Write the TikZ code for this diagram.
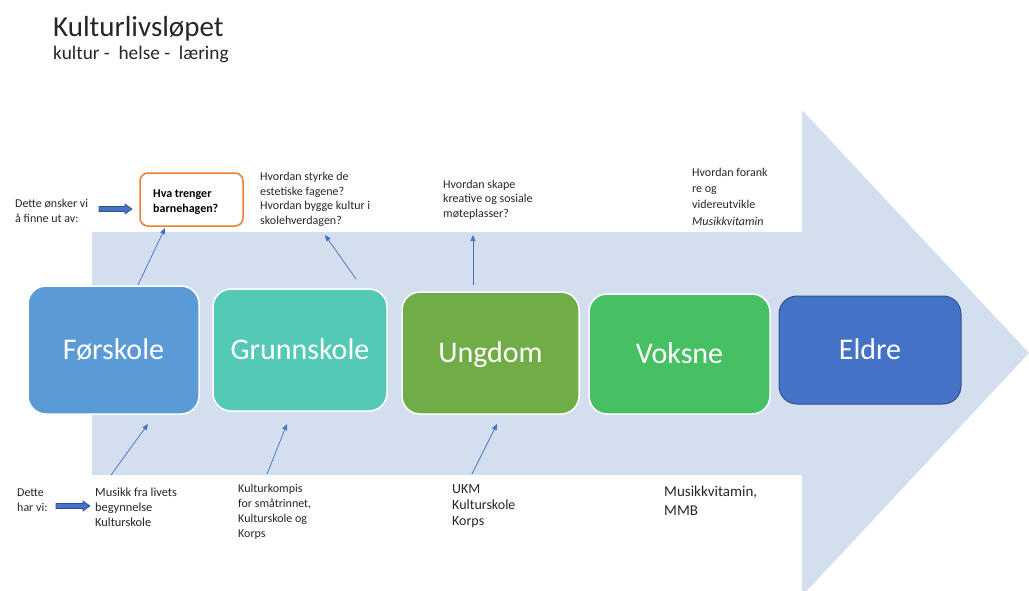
\documentclass[tikz,border=0pt]{standalone}
\usepackage{fontspec}
\setmainfont{Carlito}
\usetikzlibrary{arrows.meta}
\definecolor{shaftblue}{HTML}{D3DEEF}
\definecolor{forblue}{HTML}{5B9BD5}
\definecolor{grunnteal}{HTML}{53C9B6}
\definecolor{unggreen}{HTML}{70AD47}
\definecolor{voksgreen}{HTML}{47BF63}
\definecolor{eldblue}{HTML}{4472C4}
\definecolor{darkblue}{HTML}{2F528F}
\definecolor{lineblue}{HTML}{4472C4}
\definecolor{orangeb}{HTML}{ED7D31}
\definecolor{txt}{HTML}{262626}
\tikzset{
  stage/.style={draw=white, line width=1.5pt, rounded corners=18pt, text=white,
    font=\fontsize{30}{34}\selectfont, inner sep=0pt, text height=19.3pt, text depth=0pt},
  small/.style={anchor=base west, inner sep=0pt, align=left, text=txt,
    font=\fontsize{12}{14.5}\selectfont},
  conn/.style={draw=lineblue, line width=0.7pt, -{Triangle[length=6pt,width=5pt]}},
  blockarrow/.style={fill=lineblue, draw=darkblue, line width=0.6pt}
}
\begin{document}
\begin{tikzpicture}[x=1pt,y=-1pt]
\useasboundingbox (0,0) rectangle (1029,590);
\clip (0,0) rectangle (1029,590);
% big arrow
\fill[shaftblue] (92,232) -- (802,232) -- (802,110) -- (1029,353) -- (802,596) -- (802,475) -- (92,475) -- cycle;

% title
\node[anchor=base west, inner sep=0pt, text=txt, font=\fontsize{29}{32}\selectfont] (title) at (53,36) {Kulturlivsløpet};
\node[anchor=base west, inner sep=0pt, text=txt, font=\fontsize{19.3}{22}\selectfont] (subtitle) at (53,59) {kultur -\ \ helse -\ \ læring};

% stages
\node[stage, fill=forblue, minimum width=171pt, minimum height=128pt] (forskole) at (113.5,350) {Førskole};
\node[stage, fill=grunnteal, minimum width=174pt, minimum height=122pt] (grunn) at (300,350) {Grunnskole};
\node[stage, fill=unggreen, minimum width=177pt, minimum height=122pt] (ungdom) at (490.5,353) {Ungdom};
\node[stage, fill=voksgreen, minimum width=181pt, minimum height=120pt] (voksne) at (679.5,354) {Voksne};
\node[stage, draw=darkblue, line width=1pt, fill=eldblue, minimum width=182pt, minimum height=108pt] (eldre) at (870,350) {Eldre};

% top texts (anchor = baseline of last line)
\node[small] (onsker) at (15,222) {Dette ønsker vi\\å finne ut av:};
\node[draw=orangeb, line width=1.5pt, rounded corners=8pt, fill=white, minimum width=103pt, minimum height=53pt] (hva) at (191.5,199.5) {};
\node[small, font=\fontsize{12}{14.5}\selectfont\bfseries, text=black] (hvatxt) at (153,212) {Hva trenger\\barnehagen?};
\node[small] (qgrunn) at (260,224) {Hvordan styrke de\\estetiske fagene?\\Hvordan bygge kultur i\\skolehverdagen?};
\node[small] (qung) at (443,217) {Hvordan skape\\kreative og sosiale\\møteplasser?};
\node[small, font=\fontsize{12}{16.3}\selectfont] (qvoks) at (692,225) {Hvordan forank\\re og\\videreutvikle\\\textit{Musikkvitamin}};

% bottom texts
\node[small, font=\fontsize{12}{15}\selectfont] (harvi) at (17,511) {Dette\\har vi:};
\node[small, font=\fontsize{12.4}{15}\selectfont] (bfor) at (95,526) {Musikk fra livets\\begynnelse\\Kulturskole};
\node[small, font=\fontsize{12}{15}\selectfont] (bgrunn) at (238,537) {Kulturkompis\\for småtrinnet,\\Kulturskole og\\Korps};
\node[small, font=\fontsize{14}{16}\selectfont] (bung) at (452,525) {UKM\\Kulturskole\\Korps};
\node[small, font=\fontsize{15}{19}\selectfont] (bvoks) at (664,515) {Musikkvitamin,\\MMB};

% block arrows
\fill[blockarrow] (99,206.5) -- (125,206.5) -- (125,204) -- (132,209) -- (125,214) -- (125,211.5) -- (99,211.5) -- cycle;
\fill[blockarrow] (56,503.5) -- (83,503.5) -- (83,501) -- (90,506) -- (83,511) -- (83,508.5) -- (56,508.5) -- cycle;

% connector coordinates
\coordinate (c1s) at (138,285);
\coordinate (c1e) at (165,228);
\coordinate (c2s) at (356,279);
\coordinate (c2e) at (325,235);
\coordinate (c3s) at (473,285);
\coordinate (c3e) at (473,235);
\coordinate (d1s) at (111,475);
\coordinate (d1e) at (148,424);
\coordinate (d2s) at (267,474);
\coordinate (d2e) at (287,424);
\coordinate (d3s) at (472,474);
\coordinate (d3e) at (497,424);
\draw[conn] (c1s) -- (c1e);
\draw[conn] (c2s) -- (c2e);
\draw[conn] (c3s) -- (c3e);
\draw[conn] (d1s) -- (d1e);
\draw[conn] (d2s) -- (d2e);
\draw[conn] (d3s) -- (d3e);
\end{tikzpicture}
\end{document}
